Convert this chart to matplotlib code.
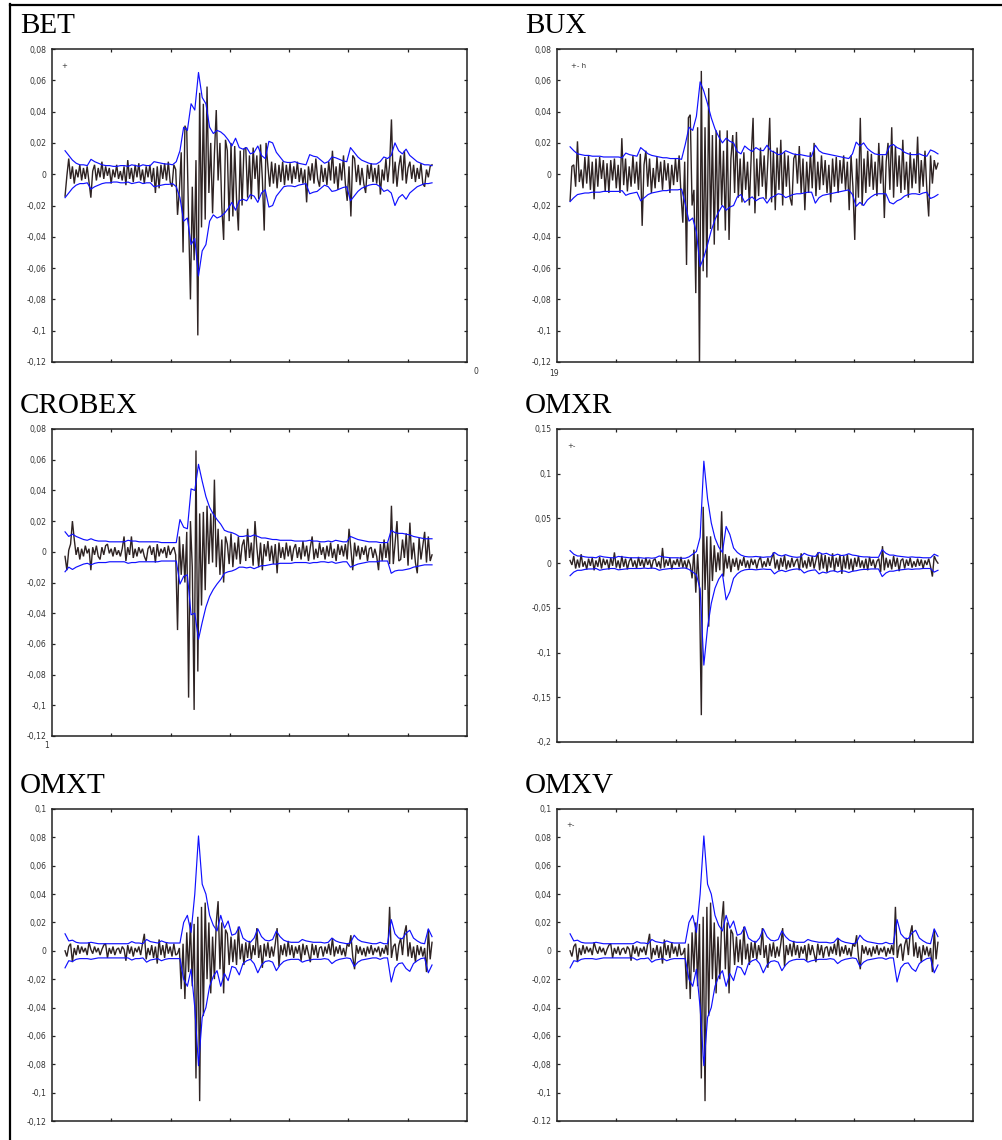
import numpy as np
import matplotlib
matplotlib.use("Agg")
import matplotlib.pyplot as plt
from matplotlib.lines import Line2D

# ---------------- data (returns and conditional std, in thousandths) ----------------
bet_ret = [
    -14, -1, 10, -3, 5, -6, 3, -2, 6, -4,
    4, -3, 5, -5, -15, 2, 6, -4, 4, -2,
    8, -3, 5, -1, 4, -6, 3, -2, 6, -3,
    2, -4, 5, -7, 9, -3, 4, -5, 6, -2,
    7, -4, 3, -6, 5, -2, 6, -5, 4, -12,
    5, -9, 6, -3, 7, -4, 8, -5, -8, 6,
    3, -26, -10, 14, -50, 31, 28, -29, -80, -8,
    -55, 9, -103, 52, -34, 45, -29, 56, -12, 20,
    -25, 13, 41, -4, 20, -21, -42, 22, 15, -30,
    20, -27, 18, -16, -36, 15, -20, 16, 17, -15,
    12, -16, 17, -3, 12, -16, 19, -3, -36, 20,
    5, -8, 8, -6, 7, -9, 6, -5, 8, -7,
    6, -4, 7, -6, 5, -3, 8, -5, 4, -6,
    3, -18, 5, -4, 7, -6, 10, -3, -8, 6,
    -5, 4, -7, 8, -4, 15, -6, 5, -10, 7,
    -4, 12, -6, -17, 5, -27, 12, 10, -5, 6,
    -7, 4, -6, -12, 6, -3, 7, -5, 4, -6,
    6, -13, 3, -4, 10, -5, 6, 35, -6, 8,
    -8, 5, 12, -4, 15, -6, 4, 8, -3, 6,
    -5, 4, -3, 7, -6, -8, 3, -2, 5, 6]
bet_h = [
    15, 12, 9, 7, 6, 6, 5.5, 9.5, 8, 7,
    6, 5.5, 5.5, 5, 5, 5.5, 5.5, 5, 6, 5.5,
    5, 6, 5.5, 5.5, 8, 7.5, 7, 6.5, 6.5, 6,
    8, 15, 30, 28, 45, 41, 65, 49, 45, 30,
    26, 28, 27, 25, 22, 18, 23, 17, 16, 17,
    13, 14, 18, 12, 10, 21, 20, 14, 11, 8,
    7.5, 7.5, 8, 7, 6.5, 6, 12.5, 11.5, 11, 9,
    7, 8, 11, 10.5, 9.5, 8.5, 8, 17, 14, 11,
    9, 8, 7, 6.5, 6.5, 8, 11, 10, 12, 20,
    15, 13, 16, 12, 10, 8, 7, 6, 6, 5.5]

bux_ret = [
    -17, 5, 6, -8, 21, -5, 3, -9, 11, -6,
    12, -10, 8, -16, 10, -8, 11, -3, 9, -11,
    7, -12, 9, -4, 10, -9, 6, -12, 23, -7,
    10, -11, 5, -8, 12, -6, 8, -10, 13, -33,
    6, 15, -8, 10, -12, 4, -9, 11, -5, 8,
    -10, 9, -4, 7, -12, 6, -7, 10, -5, 12,
    -13, -31, 8, -58, 36, 38, -20, -10, -76, 30,
    -124, 66, -62, 30, -66, 55, -35, 25, -45, 28,
    -36, 28, -20, 15, -36, 28, -42, 10, 25, -12,
    27, -15, 10, -18, 14, -10, 8, -20, 12, 36,
    -25, 10, -14, 17, -8, 12, -16, 9, 36, -18,
    15, -23, 17, -10, 22, -20, 14, -8, 12, -15,
    -20, 10, 13, -6, 18, -12, 10, -23, 8, -12,
    14, -9, 20, -14, 8, -10, 12, -7, 9, -12,
    6, -18, 10, -8, 11, -12, 9, -6, 12, -10,
    8, -23, 12, -8, -42, 10, -15, 36, -20, 10,
    -12, 15, -8, 13, -10, 8, -14, 20, -6, 12,
    -28, 8, 20, -10, 30, -15, 18, -8, 12, -12,
    22, -10, 8, -15, 14, -9, 10, -6, 24, -12,
    9, -8, 15, -10, -27, 12, -6, 9, 3, 7]
bux_h = [
    17.5, 15, 13, 12.5, 12, 12, 11.5, 11.5, 11.5, 11,
    11, 11, 11, 11, 10.5, 13.5, 12.5, 12, 11.5, 17,
    15, 13, 12, 11.5, 11, 10.5, 10.5, 10, 10, 10,
    9.5, 19, 30, 28, 37, 59, 53, 45, 36, 29,
    24, 20, 23, 21, 20, 14.5, 13, 18, 16, 14.5,
    17, 15.5, 15, 18.5, 15, 14, 12.5, 13, 15, 14,
    13, 12.5, 12.5, 12, 11.5, 11.5, 18.5, 15, 13.5, 13,
    12.5, 12, 11.5, 11, 10.5, 10, 13, 20.5, 18, 20,
    16.5, 14.5, 13, 12.5, 12.5, 12.5, 18, 19, 17, 16,
    14, 13, 12.5, 12.5, 13, 12, 11.5, 15.5, 14.5, 13]

crobex_ret = [
    -3, -12, 1, 5, 20, 8, -2, 3, -5, 2,
    -3, 4, -1, 2, -12, 3, -2, 4, -3, -5,
    3, -2, 4, 5, -1, 2, -3, 3, -2, 1,
    -3, 2, 10, -6, 3, -2, 10, -4, 2, -3,
    3, -1, 2, -3, -6, 2, 4, -2, 3, -7,
    5, -3, 2, -1, 3, -4, 4, -2, 1, 3,
    -2, -51, 10, -15, 5, -20, 13, -95, 20, -10,
    -103, 66, -78, 25, -35, 26, -25, 30, -8, 25,
    -7, 47, -10, 15, -15, 8, -20, 10, 5, -8,
    12, -10, 6, -5, 10, -8, 4, 8, -6, 15,
    -4, 6, -9, 20, 3, -10, 6, -12, 5, -3,
    7, -6, 4, -8, 5, -14, 6, -4, 3, -5,
    6, -3, 4, -6, 2, 5, -4, 3, -5, 7,
    -3, 4, -6, 3, 10, -5, 2, -4, 6, -2,
    3, -5, 4, -3, 6, -4, 2, -6, 5, -2,
    4, -3, 5, -5, 15, 2, -12, 6, -3, 4,
    -5, 3, -2, 4, -6, 2, 3, -4, 2, -3,
    -12, 5, -6, 8, -4, 6, -8, 30, -8, 6,
    20, -6, -5, 8, -4, 12, -9, 19, -5, 6,
    -7, -14, 9, -5, 4, 13, -7, 10, -6, -2]
crobex_h = [
    13, 10, 11.5, 10, 9, 8, 7.5, 8.5, 7.5, 7,
    7, 7, 6.5, 6.5, 6.5, 6.5, 6.5, 7.5, 7, 7,
    6.5, 6.5, 6.5, 6.5, 6.5, 6.5, 6, 6, 6, 6,
    6, 21, 16, 15, 41, 40, 57, 46, 36, 29,
    24.5, 21, 18, 14, 13, 12.5, 11.5, 10, 10, 10.5,
    10, 11, 10, 9, 9, 8.5, 8, 8, 7.5, 7.5,
    7.5, 7.5, 7, 7, 7, 7, 7.5, 7, 7, 6.5,
    6.5, 7, 6.5, 7.5, 7, 6.5, 6.5, 10, 9, 8,
    7.5, 7, 6.5, 6.5, 6.5, 6, 6, 6, 14, 12.5,
    12, 12, 11.5, 11, 10, 9.5, 9, 8.5, 8.5, 8.5]

omxr_ret = [
    3, -2, 8, -6, 4, -5, 10, -4, 2, -7,
    5, -3, 6, -8, 3, -4, 7, -6, 5, -2,
    4, -7, 6, -3, 12, -5, 3, -6, 8, -4,
    5, -7, 2, 6, -4, 3, -6, 7, -3, 4,
    -5, 6, -2, 4, -6, 3, 5, -4, 2, -6,
    17, -5, 4, -3, 6, -7, 3, -2, 5, -4,
    7, -5, 3, -6, 4, -2, -17, 15, -33, 10,
    -30, -170, 63, -30, 30, -71, 30, -20, 20, -10,
    12, -8, 58, -15, 10, -6, 8, -10, 5, -4,
    6, -8, 4, -3, 7, -5, 3, -6, 5, -2,
    4, -6, 3, 7, -5, 2, -4, 6, -3, 5,
    12, -6, 4, -8, 6, -4, 9, -7, 3, -5,
    6, -4, 2, 5, -8, 11, -5, 3, -6, 7,
    -4, 8, -6, 3, 12, -8, 10, -6, 9, -10,
    7, -5, 11, -9, 6, -4, 9, -12, 8, -6,
    10, -7, 5, -9, 6, -4, 8, -5, 3, -6,
    5, -8, 7, -3, 4, -6, 2, 5, -10, 19,
    -8, 6, -5, 4, -7, 8, -4, 6, -9, 3,
    5, -6, 4, -3, 6, -5, 2, -4, 5, -3,
    4, -6, 3, -2, 5, -4, -15, 8, 3, 0]
omxr_h = [
    14, 10, 8, 8, 7, 6.5, 6.5, 6, 8, 7,
    6.5, 6, 6, 7.5, 7, 6.5, 6, 6, 6, 6,
    5.5, 6, 5.5, 6, 8, 7, 6.5, 6, 6, 6,
    5.5, 5.5, 7, 10, 13, 29, 114, 72, 45, 28,
    18, 12, 41, 32, 17, 12, 9, 7.5, 7, 7,
    7.5, 7, 6.5, 7, 7, 12, 9, 8, 9.5, 8,
    7, 6.5, 7, 11, 9, 8, 7.5, 12, 10, 11,
    9, 8.5, 10, 8.5, 9, 10.5, 9, 8.5, 7.5, 7,
    7, 6.5, 6.5, 6.5, 15, 11, 9, 9, 8, 7.5,
    7, 6.5, 7, 6.5, 6.5, 6, 6, 6, 10, 8]

omxt_ret = [
    0, -4, 3, 5, -8, 2, -3, 4, -2, 3,
    -1, 2, -3, 6, 1, -2, 3, -1, 2, -3,
    1, 4, 5, -5, 2, -2, 3, -3, 1, 2,
    -2, 3, 1, -7, 4, -2, 3, -4, 2, -1,
    3, -3, 5, 12, -6, 2, -3, 4, -5, 3,
    -9, 8, -3, 4, -5, 6, -2, 3, -4, 5,
    -3, -2, 2, -27, 5, -34, 13, -15, 20, -25,
    19, -90, 24, -106, 31, -46, 34, -20, 20, -30,
    10, -20, 20, 35, -13, 20, -30, 15, 12, -10,
    10, -8, 8, -10, 17, -6, 5, -10, 6, -5,
    7, -6, 4, -3, 16, -5, 4, -12, 5, -4,
    6, -5, 3, -4, 5, 16, -11, 4, -3, 5,
    -4, 7, -3, 4, -5, 3, -2, 4, -7, 5,
    -3, 4, -2, -8, 5, -3, 4, -5, 2, 3,
    -4, 3, -2, 5, -3, 9, -4, 3, -2, 4,
    -3, 2, -4, 5, 3, 11, -4, -13, 4, -2,
    3, -3, 2, -4, 3, -2, 4, -3, 2, -1,
    3, -4, 2, -2, 4, -3, 31, -5, 3, 5,
    -7, 4, 9, -3, 12, 18, -4, 6, -5, 3,
    -8, 4, -3, 3, -4, 2, -15, 15, -6, 6]
omxt_h = [
    12, 7, 7.5, 6, 5.5, 5.5, 5.5, 6, 5.5, 5,
    5, 5, 5, 5, 5, 5, 5, 5, 6.5, 5.5,
    5.5, 5, 8, 6.5, 6, 5.5, 7, 6, 5.5, 5.5,
    5.5, 5.5, 20, 25, 13, 40, 81, 47, 40, 25,
    18, 14, 25, 16, 21, 11, 12, 17, 9, 7,
    6, 9, 15.5, 10, 7.5, 7, 8, 14, 10, 7.5,
    6.5, 6, 6, 6, 8, 7, 6.5, 6, 6, 6,
    5.5, 6, 9, 7, 6, 5.5, 5, 5.5, 11, 8,
    6.5, 6, 5.5, 5, 5, 6, 5, 5, 22, 12,
    9, 8.5, 12.5, 14.5, 9, 7, 5.5, 5, 15.5, 10]
omxv_ret = list(omxt_ret)
omxv_h = list(omxt_h)

titles = ["BET", "BUX", "CROBEX", "OMXR", "OMXT", "OMXV"]

ticks_a = [0.08, 0.06, 0.04, 0.02, 0, -0.02, -0.04, -0.06, -0.08, -0.1, -0.12]
labels_a = ["0,08", "0,06", "0,04", "0,02", "0", "-0,02", "-0,04", "-0,06", "-0,08", "-0,1", "-0,12"]
ticks_r = [0.15, 0.1, 0.05, 0, -0.05, -0.1, -0.15, -0.2]
labels_r = ["0,15", "0,1", "0,05", "0", "-0,05", "-0,1", "-0,15", "-0,2"]
ticks_t = [0.1, 0.08, 0.06, 0.04, 0.02, 0, -0.02, -0.04, -0.06, -0.08, -0.1, -0.12]
labels_t = ["0,1", "0,08", "0,06", "0,04", "0,02", "0", "-0,02", "-0,04", "-0,06", "-0,08", "-0,1", "-0,12"]
labels_v = ["0,1", "0,08", "0,06", "0,04", "0,02", "0", "-0,02", "-0,04", "-0,06", "-0,08", "-0,1", "-0.12"]

# ---------------- layout ----------------
W, H = 1002, 1140
fig = plt.figure(figsize=(W / 100, H / 100), dpi=100)
fig.patch.set_facecolor("white")

def px_rect(l, t, r, b):
    return [l / W, 1 - b / H, (r - l) / W, (b - t) / H]

panels = [
    ("BET", bet_ret, bet_h, (52, 49, 467, 362), (-0.12, 0.08), ticks_a, labels_a, (20, 33)),
    ("BUX", bux_ret, bux_h, (557, 49, 973, 362), (-0.12, 0.08), ticks_a, labels_a, (525, 33)),
    ("CROBEX", crobex_ret, crobex_h, (52, 429, 467, 736), (-0.12, 0.08), ticks_a, labels_a, (20, 413)),
    ("OMXR", omxr_ret, omxr_h, (557, 429, 973, 742), (-0.2, 0.15), ticks_r, labels_r, (525, 413)),
    ("OMXT", omxt_ret, omxt_h, (52, 809, 467, 1121), (-0.12, 0.1), ticks_t, labels_t, (20, 793)),
    ("OMXV", omxv_ret, omxv_h, (557, 809, 973, 1121), (-0.12, 0.1), ticks_t, labels_v, (525, 793)),
]

black = "#2e2323"
blue = "#1010ff"
x_start, x_end = 0.22, 6.41

for title, ret, h, rect, ylim, yt, yl, tpos in panels:
    ax = fig.add_axes(px_rect(*rect))
    r = np.asarray(ret, float) * 1e-3
    hv = np.asarray(h, float) * 1e-3
    xr = np.linspace(x_start, x_end, len(r))
    xh = np.linspace(x_start, x_end, len(hv))
    ax.plot(xr, r, color=black, lw=1.0, solid_joinstyle="miter", zorder=2)
    ax.plot(xh, hv, color=blue, lw=0.85, zorder=3)
    ax.plot(xh, -hv, color=blue, lw=0.85, zorder=3)
    ax.set_xlim(0, 7)
    ax.set_ylim(*ylim)
    ax.set_xticks([1, 2, 3, 4, 5, 6])
    ax.set_xticklabels([])
    ax.set_yticks(yt)
    ax.set_yticklabels(yl)
    ax.tick_params(axis="both", direction="in", length=2.5, width=0.9, color="#222222",
                   top=True, right=True, labelsize=5.6, labelcolor="#333333", pad=4)
    for s in ax.spines.values():
        s.set_linewidth(1.1)
        s.set_color("#222222")
    fig.text(tpos[0] / W, 1 - tpos[1] / H, title, fontsize=21, family="Liberation Serif",
             va="baseline", ha="left", color="black")

# stray marks present in the original picture
def ptext(x, y, s, size=5):
    fig.text(x / W, 1 - y / H, s, fontsize=size, ha="left", va="center", color="#333333")

ptext(61, 66, "+")
ptext(571, 66, "+- h")
ptext(567, 446, "+-")
ptext(566, 825, "+-")
ptext(473, 372, "0", 5.5)
ptext(549, 374, "19", 5.5)
ptext(44, 745, "1", 5.5)

# outer frame (top and left edges)
fig.add_artist(Line2D([9.5 / W, 1.0], [1 - 5 / H, 1 - 5 / H], color="black", lw=1.6,
                      transform=fig.transFigure))
fig.add_artist(Line2D([10 / W, 10 / W], [0, 1 - 4 / H], color="black", lw=1.6,
                      transform=fig.transFigure))

fig.savefig("out.png", dpi=100, facecolor="white")
